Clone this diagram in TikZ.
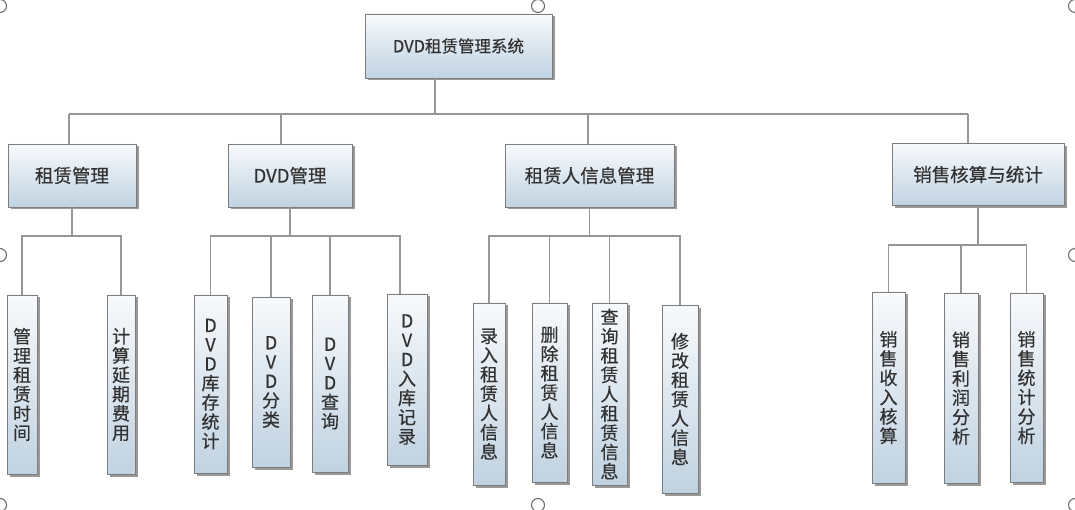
\documentclass[tikz,border=0pt]{standalone}
\usepackage{fontspec}
\newfontfamily\cjk[FakeBold=0.5]{Noto Sans CJK SC}
\usetikzlibrary{shadows}
\definecolor{boxtop}{RGB}{248,250,252}
\definecolor{boxbot}{RGB}{192,210,225}
\definecolor{boxline}{RGB}{125,125,125}
\definecolor{txt}{RGB}{50,50,50}
\definecolor{conn}{RGB}{150,150,150}
\definecolor{handle}{RGB}{110,110,110}
\tikzset{
  box/.style={draw=boxline, line width=0.8pt, top color=boxtop, bottom color=boxbot,
    drop shadow={shadow xshift=2.5pt, shadow yshift=-2.5pt, fill=black, opacity=0.4},
    text=txt, inner sep=0pt, align=center, font=\cjk},
  hbox/.style={box, font=\cjk\fontsize{18.5}{20}\selectfont},
  rootbox/.style={box, font=\cjk\fontsize{16.5}{18}\selectfont},
  vbox/.style={box, font=\cjk\fontsize{18}{19.3}\selectfont},
  link/.style={draw=conn, line width=1.8pt},
  handlec/.style={circle, draw=handle, fill=white, line width=1.1pt, minimum size=13pt, inner sep=0pt}
}
\begin{document}
\begin{tikzpicture}[x=1pt, y=-1pt]
\useasboundingbox (0,0) rectangle (1075,510);
\fill[white] (0,0) rectangle (1075,510);

% bus coordinates
\coordinate (bus0) at (0,114);
\coordinate (busA) at (0,236);
\coordinate (busB) at (0,236);
\coordinate (busC) at (0,236);
\coordinate (busD) at (0,245);

% root
\node[rootbox, minimum width=187pt, minimum height=64pt] (root) at (458.5,46) {DVD租赁管理系统};

% level 1
\node[hbox, minimum width=128pt, minimum height=63pt] (n1) at (72,175.5) {租赁管理};
\node[hbox, minimum width=124pt, minimum height=63pt] (n2) at (290,175.5) {DVD管理};
\node[hbox, minimum width=169pt, minimum height=63pt] (n3) at (589.5,175.5) {租赁人信息管理};
\node[hbox, minimum width=172pt, minimum height=62pt] (n4) at (978,174.5) {销售核算与统计};

% level 2
\node[vbox, minimum width=30pt, minimum height=179pt] (a1) at (22,384.5) {管\\理\\租\\赁\\时\\间};
\node[vbox, minimum width=28pt, minimum height=179pt] (a2) at (121,384.5) {计\\算\\延\\期\\费\\用};

\node[vbox, minimum width=33pt, minimum height=178pt] (b1) at (210.5,384) {D\\V\\D\\库\\存\\统\\计};
\node[vbox, minimum width=38pt, minimum height=170pt] (b2) at (271,382) {D\\V\\D\\分\\类};
\node[vbox, minimum width=36pt, minimum height=177pt] (b3) at (330,383.5) {D\\V\\D\\查\\询};
\node[vbox, minimum width=40pt, minimum height=171pt] (b4) at (407,379.5) {D\\V\\D\\入\\库\\记\\录};

\node[vbox, minimum width=32pt, minimum height=182pt] (c1) at (489,394) {录\\入\\租\\赁\\人\\信\\息};
\node[vbox, minimum width=35pt, minimum height=179pt] (c2) at (549.5,392.5) {删\\除\\租\\赁\\人\\信\\息};
\node[vbox, minimum width=35pt, minimum height=182pt] (c3) at (609.5,394) {查\\询\\租\\赁\\人\\租\\赁\\信\\息};
\node[vbox, minimum width=36pt, minimum height=188pt] (c4) at (680,399) {修\\改\\租\\赁\\人\\信\\息};

\node[vbox, minimum width=33pt, minimum height=191pt] (d1) at (888.5,387.5) {销\\售\\收\\入\\核\\算};
\node[vbox, minimum width=34pt, minimum height=190pt] (d2) at (961,388) {销\\售\\利\\润\\分\\析};
\node[vbox, minimum width=33pt, minimum height=189pt] (d3) at (1026.5,387.5) {销\\售\\统\\计\\分\\析};

% connectors: root to level 1
\draw[link] ([xshift=-23.5pt]root.south) -- ([xshift=-23.5pt]root.south |- bus0);
\draw[link] ([xshift=-3pt]n1.north |- bus0) -- ([xshift=-10pt]n4.north |- bus0);
\draw[link] ([xshift=-3pt]n1.north |- bus0) -- ([xshift=-3pt]n1.north);
\draw[link] ([xshift=-9pt]n2.north |- bus0) -- ([xshift=-9pt]n2.north);
\draw[link] ([xshift=-1.5pt]n3.north |- bus0) -- ([xshift=-1.5pt]n3.north);
\draw[link] ([xshift=-10pt]n4.north |- bus0) -- ([xshift=-10pt]n4.north);

% group A
\draw[link] (n1.south) -- (n1.south |- busA);
\draw[link] (a1.north) -- (a1.north |- busA) -- (a2.north |- busA) -- (a2.north);

% group B
\draw[link] (n2.south) -- (n2.south |- busB);
\draw[link] (b1.north) -- (b1.north |- busB) -- ([xshift=-7pt]b4.north |- busB) -- ([xshift=-7pt]b4.north);
\draw[link] (b2.north |- busB) -- (b2.north);
\draw[link] (b3.north |- busB) -- (b3.north);

% group C
\draw[link] (n3.south) -- (n3.south |- busC);
\draw[link] (c1.north) -- (c1.north |- busC) -- (c4.north |- busC) -- (c4.north);
\draw[link] (c2.north |- busC) -- (c2.north);
\draw[link] (c3.north |- busC) -- (c3.north);

% group D
\draw[link] (n4.south) -- (n4.south |- busD);
\draw[link] (d1.north) -- (d1.north |- busD) -- (d3.north |- busD) -- (d3.north);
\draw[link] (d2.north |- busD) -- (d2.north);

% selection handles
\node[handlec] (h1) at (0,6) {};
\node[handlec] (h2) at (538,6) {};
\node[handlec] (h3) at (1075,6) {};
\node[handlec] (h4) at (0,255) {};
\node[handlec] (h5) at (1075,255) {};
\node[handlec] (h6) at (0,505) {};
\node[handlec] (h7) at (538,505) {};
\node[handlec] (h8) at (1075,505) {};
\end{tikzpicture}
\end{document}
